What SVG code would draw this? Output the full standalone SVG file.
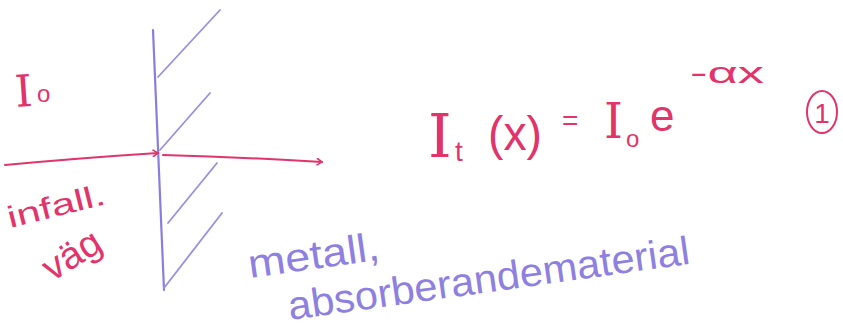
<svg xmlns="http://www.w3.org/2000/svg" width="843" height="329" viewBox="0 0 843 329">
<style>
.red{fill:#e2336b;font-family:"Liberation Sans",Arial,sans-serif}
.rs{fill:#e2336b;font-family:"DejaVu Serif","Liberation Serif",serif}
.pur{fill:#8d80e0;font-family:"Liberation Sans",Arial,sans-serif}
.wall{stroke:#8a7de0;stroke-width:2.2;fill:none;stroke-linecap:round}
.hatch{stroke:#9a8ee6;stroke-width:1.8;fill:none;stroke-linecap:round}
.ray{stroke:#e2336b;stroke-width:2;fill:none;stroke-linecap:round}
</style>
<defs>
<marker id="ah" viewBox="0 0 10 10" refX="8" refY="5" markerWidth="8" markerHeight="8" orient="auto" markerUnits="userSpaceOnUse">
<path d="M2,1 L8,5 L2,9" fill="none" stroke="#e2336b" stroke-width="2" stroke-linecap="round"/>
</marker>
</defs>
<rect width="843" height="329" fill="#ffffff"/>
<g id="metal-wall">
<path class="wall" d="M153,30 L164,290"/>
<path class="hatch" d="M158,77 L220,10"/>
<path class="hatch" d="M160,150 L210,93"/>
<path class="hatch" d="M168,223 L217,163"/>
<path class="hatch" d="M164,288 L222,213"/>
</g>
<g id="connectors">
<path class="ray" d="M5,165 Q80,158 158,153" marker-end="url(#ah)"/>
<path class="ray" d="M163,155 Q240,157 322,162" marker-end="url(#ah)"/>
</g>
<g id="label-I0">
<text class="rs" x="16" y="107" font-size="44" transform="rotate(-4 16 107)">I</text>
<text class="red" x="37" y="102" font-size="24">o</text>
</g>
<g id="label-infall">
<text class="red" x="10" y="228" font-size="30" transform="rotate(-14 10 228)" textLength="100" lengthAdjust="spacingAndGlyphs">infall.</text>
<text class="red" x="52" y="282" font-size="38" transform="rotate(-32 52 282)" textLength="62" lengthAdjust="spacingAndGlyphs">väg</text>
</g>
<g id="formula">
<text class="rs" x="428" y="157" font-size="60">I</text>
<text class="red" x="455" y="161" font-size="28">t</text>
<text class="red" x="488" y="150" font-size="48" textLength="54" lengthAdjust="spacingAndGlyphs">(x)</text>
<text class="red" x="562" y="130" font-size="28">=</text>
<text class="rs" x="604" y="138" font-size="48">I</text>
<text class="red" x="626" y="147" font-size="24">o</text>
<text class="red" x="650" y="131" font-size="44">e</text>
<text class="red" x="690" y="83" font-size="30" textLength="74" lengthAdjust="spacingAndGlyphs">-αx</text>
</g>
<g id="eq-number">
<ellipse cx="822" cy="112" rx="15" ry="21" fill="none" stroke="#e2336b" stroke-width="2"/>
<text class="red" x="822" y="123" font-size="28" text-anchor="middle">1</text>
</g>
<g id="label-material">
<text class="pur" x="250" y="278" font-size="40" transform="rotate(-8 250 278)" textLength="132" lengthAdjust="spacingAndGlyphs">metall,</text>
<text class="pur" x="290" y="320" font-size="40" transform="rotate(-8 290 320)" textLength="405" lengthAdjust="spacingAndGlyphs">absorberandematerial</text>
</g>
</svg>
